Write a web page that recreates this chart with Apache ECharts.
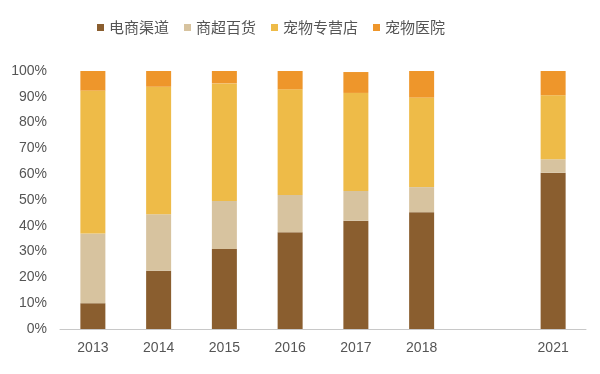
<!DOCTYPE html>
<html>
<head>
<meta charset="utf-8">
<script src="https://cdn.jsdelivr.net/npm/echarts@6/dist/echarts.min.js"></script>
<style>
html,body{margin:0;padding:0;background:#fff;}
#chart{width:600px;height:374px;}
</style>
</head>
<body>
<div id="chart"></div>
<script>
const categories = ['2013','2014','2015','2016','2017','2018','','2021'];
const seriesNames = ['电商渠道','商超百货','宠物专营店','宠物医院'];
const ecommerce = [10, 22.6, 31, 37.5, 42, 45.3, null, 60.6];
const supermarket = [27, 21.9, 18.6, 14.4, 11.5, 9.7, null, 5.2];
const petStore = [55.4, 49.4, 45.6, 41, 38, 34.7, null, 24.8];
const petHospital = [7.6, 6.1, 4.8, 7.1, 8.1, 10.3, null, 9.4];
const yTicks = [0,10,20,30,40,50,60,70,80,90,100];

const colors = ['#8A5E2F','#D7C39F','#EEBB48','#EE962B'];
const values = [ecommerce, supermarket, petStore, petHospital];

const chart = echarts.init(document.getElementById('chart'));
chart.setOption({
  animation: false,
  color: colors,
  legend: {
    top: 15,
    left: 92,
    itemWidth: 7,
    itemHeight: 7,
    itemGap: 15,
    icon: 'rect',
    textStyle: { fontFamily: 'Noto Sans CJK SC', fontSize: 15, color: '#555' },
    data: seriesNames
  },
  grid: { left: 60, right: 14, top: 71, bottom: 45 },
  xAxis: {
    type: 'category',
    data: categories,
    axisLine: { lineStyle: { color: '#c8c8c8', width: 1 } },
    axisTick: { show: false },
    axisLabel: { color: '#555', fontSize: 14, fontFamily: 'Liberation Sans', margin: 12 }
  },
  yAxis: {
    type: 'value',
    min: yTicks[0],
    max: yTicks[yTicks.length - 1],
    interval: 10,
    splitLine: { show: false },
    axisLine: { show: false },
    axisTick: { show: false },
    axisLabel: { color: '#555', fontSize: 14, fontFamily: 'Liberation Sans', margin: 13, formatter: '{value}%' }
  },
  series: seriesNames.map((n, i) => ({
    name: n,
    type: 'bar',
    stack: 'total',
    barWidth: 25,
    data: values[i]
  }))
});
</script>
</body>
</html>
